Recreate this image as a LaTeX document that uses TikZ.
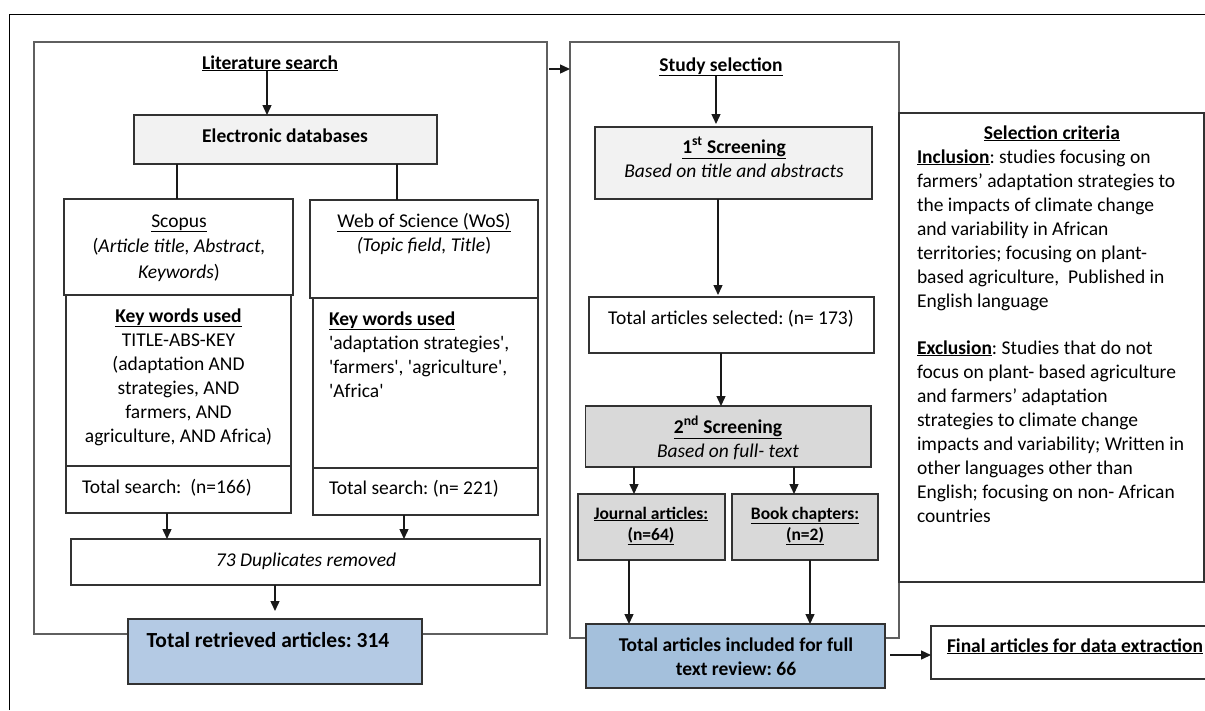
\documentclass[tikz,border=0pt]{standalone}
\usepackage{fontspec}
\setmainfont{Carlito}
\frenchspacing
\usetikzlibrary{arrows.meta,fit,calc}
\definecolor{lgray}{RGB}{242,242,242}
\definecolor{dgray}{RGB}{217,217,217}
\definecolor{blueA}{RGB}{180,202,228}
\definecolor{blueB}{RGB}{164,192,220}
\definecolor{edge}{RGB}{50,50,50}
\definecolor{cont}{RGB}{95,95,95}
\newcommand\sq{\textquotesingle}
\begin{document}
\begin{tikzpicture}[x=1pt,y=-1pt,
  box/.style={draw=edge, line width=1.2pt, inner sep=0pt, outer sep=0pt},
  container/.style={box, draw=cont},
  txt/.style={inner sep=0pt, outer sep=0pt, text=black, font=\fontsize{19.5}{24}\selectfont},
  small/.style={txt, font=\fontsize{17.5}{21}\selectfont},
  arr/.style={line width=1.4pt, draw=black!90, -{Triangle[width=9pt,length=10pt]}},
  ln/.style={line width=1.4pt, draw=black!90},
]
\useasboundingbox (0,0) rectangle (1205,710);
\clip (0,0) rectangle (1205,710);
\fill[white] (0,0) rectangle (1205,710);
% outer frame
\draw[line width=1pt] (9.5,710) -- (9.5,14) -- (1205,14);

% containers
\node[container, fit={(34,42) (547,634)}] (left) {};
\node[container, fit={(570,42) (899,638)}] (right) {};
\node[box, fit={(899,113) (1204,582)}] (crit) {};

% ---------- left part ----------
\node[txt, anchor=base] (lit) at (270,69) {\bfseries\underline{Literature search}};
\node[box, fill=lgray, fit={(134,115) (437,164)}] (ed) {};
\node[txt, anchor=base] (edt) at (285,142) {\bfseries Electronic databases};

\node[box, fit={(64,199) (293,295)}] (sc) {};
\node[box, fit={(310,200) (538,298)}] (ws) {};
\node[box, fit={(66,295) (291,466)}] (sck) {};
\node[box, fit={(313,298) (538,468)}] (wsk) {};
\node[box, fit={(66,466) (291,513)}] (sct) {};
\node[box, fit={(313,468) (538,515)}] (wst) {};

\node[txt, anchor=base, align=center, font=\fontsize{19.5}{25.5}\selectfont] (sctxt) at (179,278)
  {\underline{Scopus}\\(\textit{Article title, Abstract,}\\\textit{Keywords})};
\node[txt, anchor=base, align=center] (wstxt) at (424,251)
  {\underline{Web of Science (WoS)}\\\textit{(Topic field, Title})};
\node[txt, anchor=base, align=center] (scktxt) at (178.5,442)
  {\textbf{\underline{Key words used}}\\TITLE-ABS-KEY\\(adaptation AND\\strategies, AND\\farmers, AND\\agriculture, AND Africa)};
\node[txt, anchor=base west, align=left] (wsktxt) at (329,397)
  {\textbf{\underline{Key words used}}\\\sq adaptation strategies\sq,\\\sq farmers\sq, \sq agriculture\sq,\\\sq Africa\sq};
\node[txt, anchor=base west] (scttxt) at (82,493) {Total search:\ \ (n=166)};
\node[txt, anchor=base west] (wsttxt) at (329,494) {Total search: (n= 221)};

\node[box, fit={(71,539) (540,585)}] (dup) {};
\node[txt, anchor=base] (duptxt) at (306,566) {\itshape 73 Duplicates removed};

\node[box, fill=blueA, fit={(128,619) (422,684)}] (retr) {};
\node[txt, anchor=base, font=\fontsize{21.5}{26}\selectfont\bfseries] (retrtxt) at (268,647) {Total retrieved articles: 314};

% ---------- right part ----------
\node[txt, anchor=base] (study) at (721,71) {\bfseries\underline{Study selection}};
\node[box, fill=lgray, fit={(595,127) (872,199)}] (s1) {};
\node[txt, anchor=base, align=center] (s1txt) at (734,177)
  {\textbf{\underline{1\textsuperscript{st} Screening}}\\\textit{Based on title and abstracts}};
\node[box, fit={(589,297) (874,353)}] (sel) {};
\node[txt, anchor=base] (seltxt) at (731,324) {Total articles selected: (n= 173)};
\node[box, fill=dgray, fit={(585.5,406) (871,467)}] (s2) {};
\node[txt, anchor=base, align=center] (s2txt) at (728,457)
  {\textbf{\underline{2\textsuperscript{nd} Screening}}\\\textit{Based on full- text}};
\node[box, fill=dgray, fit={(578,494) (725,560)}] (jn) {};
\node[box, fill=dgray, fit={(732,494) (878,560)}] (bk) {};
\node[small, anchor=base, align=center] (jntxt) at (651,540)
  {\textbf{\underline{Journal articles:}}\\\textbf{\underline{(n=64)}}};
\node[small, anchor=base, align=center] (bktxt) at (805,540)
  {\textbf{\underline{Book chapters:}}\\\textbf{\underline{(n=2)}}};
\node[box, fill=blueB, fit={(586,624) (885,688)}] (inc) {};
\node[txt, anchor=base, align=center] (inctxt) at (736,675)
  {\bfseries Total articles included for full\\\bfseries text review: 66};
\node[box, fit={(931,626) (1240,679)}] (fin) {};
\node[txt, anchor=base west] (fintxt) at (947,652) {\bfseries\underline{Final articles for data extraction}};

% criteria text
\node[txt, anchor=base] (crittitle) at (1052,139) {\bfseries\underline{Selection criteria}};
\node[txt, anchor=base west, align=left] (crittxt) at (917,522)
  {\textbf{\underline{Inclusion}}: studies focusing on\\farmers’ adaptation strategies to\\the impacts of climate change\\and variability in African\\territories; focusing on plant-\\based agriculture,\ \ Published in\\English language\\[23pt]\textbf{\underline{Exclusion}}: Studies that do not\\focus on plant- based agriculture\\and farmers’ adaptation\\strategies to climate change\\impacts and variability; Written in\\other languages other than\\English; focusing on non- African\\countries};

% ---------- connectors ----------
\draw[arr] ([xshift=-3pt]lit.south) coordinate (a1) -- (a1 |- ed.north);
\draw[ln] ([xshift=43pt]ed.south west) coordinate (e1) -- (e1 |- sc.north);
\draw[ln] ([xshift=263pt]ed.south west) coordinate (e2) -- (e2 |- ws.north);
\draw[arr] ([xshift=101pt]sct.south west) coordinate (a2) -- (a2 |- dup.north);
\draw[arr] ([xshift=91pt]wst.south west) coordinate (a3) -- (a3 |- dup.north);
\draw[arr, shorten >=8pt] ([xshift=204pt]dup.south west) coordinate (a4) -- (a4 |- retr.north);
\draw[arr, shorten <=2pt] ([yshift=-27pt]left.north east) coordinate (a5) -- (a5 -| right.west);

\draw[arr, shorten >=3pt] ([xshift=-5pt]study.south) coordinate (b1) -- (b1 |- s1.north);
\draw[arr, shorten >=2pt] ([xshift=123pt]s1.south west) coordinate (b2) -- (b2 |- sel.north);
\draw[arr] ([xshift=132pt]sel.south west) coordinate (b3) -- (b3 |- s2.north);
\draw[arr] ([xshift=48.5pt]s2.south west) coordinate (b4) -- (b4 |- jn.north);
\draw[arr] ([xshift=208.5pt]s2.south west) coordinate (b5) -- (b5 |- bk.north);
\draw[arr] ([xshift=51pt]jn.south west) coordinate (b6) -- (b6 |- inc.north);
\draw[arr] ([xshift=78pt]bk.south west) coordinate (b7) -- (b7 |- inc.north);
\draw[arr, shorten <=5pt] ([yshift=-31pt]inc.north east) coordinate (b8) -- (b8 -| fin.west);
\end{tikzpicture}
\end{document}
